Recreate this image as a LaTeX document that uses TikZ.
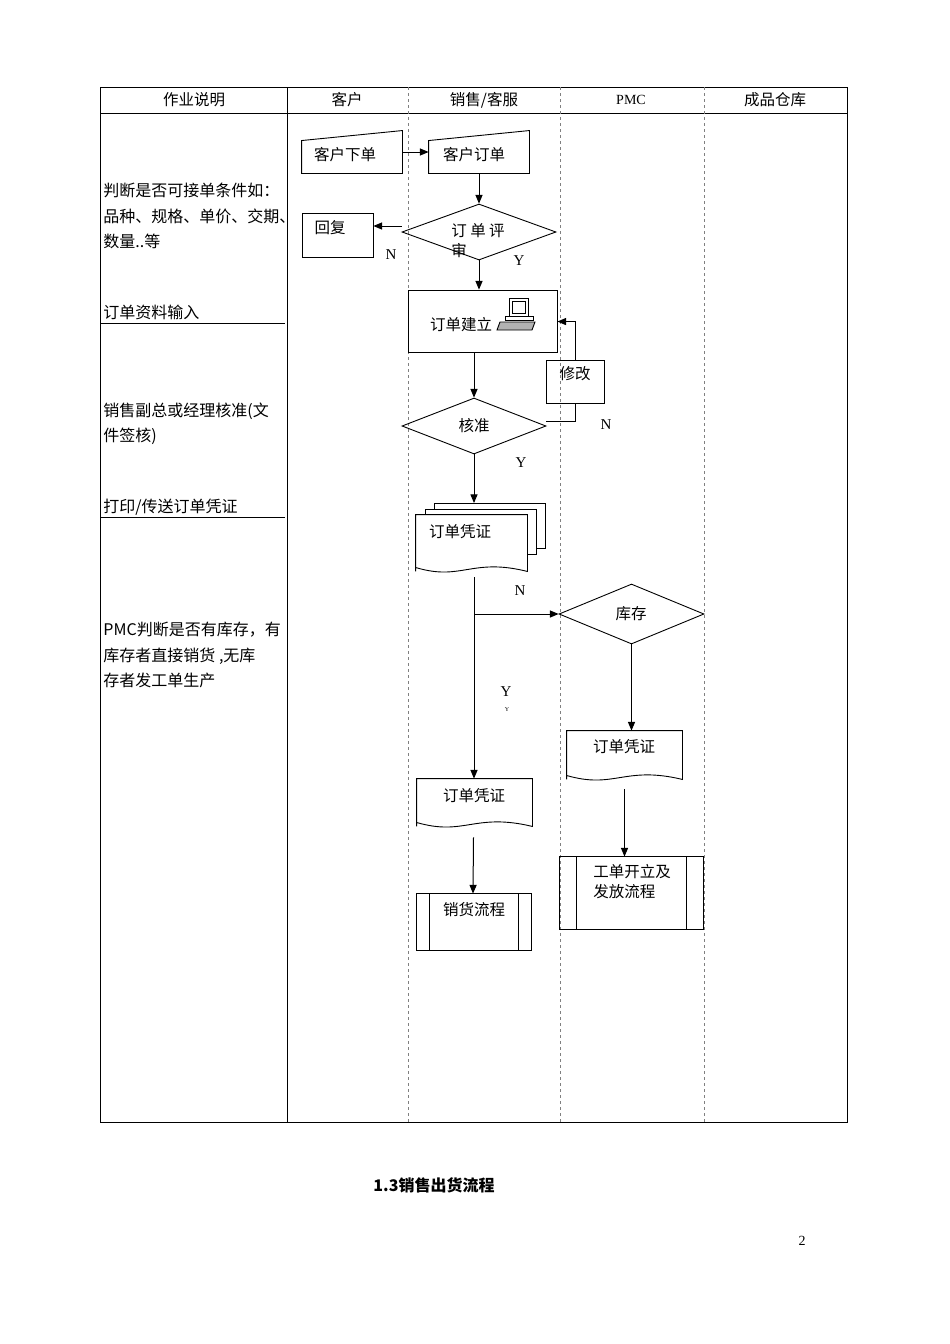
\documentclass[tikz,border=0pt]{standalone}
\usepackage{fontspec}
\setmainfont{Noto Sans CJK SC}
\newfontfamily\lat{Liberation Serif}
\usetikzlibrary{arrows,positioning,shapes.geometric,calc}
\newcommand{\docpath}[1]{%
  \draw (#1.south west) -- (#1.north west) -- (#1.north east) -- (#1.south east)
    .. controls ($(#1.south)+(0,-14)$) and ($(#1.south)+(-10,10)$) .. ($(#1.south west)+(0,-4)$) -- cycle;}
\newcommand{\manpath}[1]{%
  \draw (#1.south west) -- ($(#1.north west)+(0,10)$) -- (#1.north east) -- (#1.south east) -- cycle;}
\newcommand{\procpath}[2]{%
  \draw (#1.north west) rectangle (#1.south east);
  \draw ($(#1.north west)+(#2,0)$) -- ($(#1.south west)+(#2,0)$);
  \draw ($(#1.north east)+(-#2,0)$) -- ($(#1.south east)+(-#2,0)$);}
\begin{document}
\begin{tikzpicture}[x=1pt, y=-1pt, >=triangle 45, font=\fontsize{15.5}{20}\selectfont,
    every path/.style={line width=0.9pt},
    post/.style={->, line width=1pt},
    box/.style={minimum width=#1, inner sep=0pt},
    lane/.style={gray, dashed, line width=1pt},
    yn/.style={font=\lat\fontsize{15}{18}\selectfont}]
  \useasboundingbox (0,0) rectangle (950,1344);
  % table
  \draw (100,87) rectangle (847,1122);
  \draw (100,113) -- (847,113);
  \draw (287,87) -- (287,1122);
  \foreach \x in {408,560,704} \draw[lane] (\x,87) -- (\x,1122);
  \node at (194,100) {作业说明};
  \node at (347,100) {客户};
  \node at (484,100) {销售/客服};
  \node[font=\lat\fontsize{14}{16}\selectfont] at (631,100) {PMC};
  \node at (775,100) {成品仓库};
  % left notes
  \node[anchor=west, align=left, inner sep=0pt, font=\fontsize{16}{25.5}\selectfont] (n1) at (103,216) {判断是否可接单条件如：\\品种、规格、单价、交期、\\数量..等};
  \node[anchor=west, inner sep=0pt, font=\fontsize{16}{25.5}\selectfont] (n2) at (103,312) {订单资料输入};
  \draw (100,323) -- (285,323);
  \node[anchor=west, align=left, inner sep=0pt, font=\fontsize{16}{25.5}\selectfont] (n3) at (103,424) {销售副总或经理核准(文\\件签核)};
  \node[anchor=west, inner sep=0pt, font=\fontsize{16}{25.5}\selectfont] (n4) at (103,507) {打印/传送订单凭证};
  \draw (100,517) -- (285,517);
  \node[anchor=west, align=left, inner sep=0pt, font=\fontsize{16}{25.5}\selectfont] (n5) at (103,655) {PMC判断是否有库存，有\\库存者直接销货 ,无库\\存者发工单生产};
  % flow
  \node[box=100, minimum height=42] (KX) at (352,152) {};
  \manpath{KX}
  \node at (345,155) {客户下单};
  \node[box=100, minimum height=42] (KD) at (479,152) {};
  \manpath{KD}
  \node at (474,155) {客户订单};
  \node[draw, diamond, minimum width=154, minimum height=56, inner sep=0pt] (PS) at (479,232) {};
  \node[align=left, inner sep=0pt] at (478,241) {订 单 评\\审};
  \node[draw, minimum width=71, minimum height=44, inner sep=0pt] (HF) at (337.5,235) {};
  \node at (330,228) {回复};
  \node[draw, minimum width=149, minimum height=62, inner sep=0pt] (JL) at (482.5,321) {};
  \node at (461,325) {订单建立};
  % computer
  \draw[thick] (509,298) rectangle (528,316);
  \draw (512,301) rectangle (525,313);
  \draw[thick] (505,316) rectangle (533,320);
  \draw[fill=gray!60] (500,322) -- (535,322) -- (532,330) -- (497,330) -- cycle;
  \node[draw, diamond, minimum width=144, minimum height=56, inner sep=0pt] (HZ) at (474,426) {};
  \node at (474,426) {核准};
  \node[draw, minimum width=58, minimum height=43, inner sep=0pt] (XG) at (575,381.5) {};
  \node at (575,374) {修改};
  \draw[fill=white] (434,503) rectangle (545,548);
  \draw[fill=white] (425,509) rectangle (536,554);
  \node[box=111, minimum height=56, fill=white] (PZ1) at (471.5,543) {};
  \docpath{PZ1}
  \node at (460,532) {订单凭证};
  \node[draw, diamond, minimum width=145, minimum height=60, inner sep=0pt] (KC) at (631.5,614) {};
  \node at (631,614) {库存};
  \node[box=115, minimum height=48] (PZ3) at (624.5,755) {};
  \docpath{PZ3}
  \node at (624,747) {订单凭证};
  \node[minimum width=143, minimum height=72, inner sep=0pt] (GD) at (631.5,893) {};
  \procpath{GD}{17}
  \node[align=left, inner sep=0pt] at (632,882) {工单开立及\\发放流程};
  \node[box=115, minimum height=47] (PZ2) at (474.5,802.5) {};
  \docpath{PZ2}
  \node at (474,796) {订单凭证};
  \node[minimum width=114, minimum height=56, inner sep=0pt] (XH) at (474,922) {};
  \procpath{XH}{13}
  \node at (474,910) {销货流程};
  % connectors
  \draw[post] (KX.east) -- (KD.west);
  \draw[post] (KD.south) -- (PS.north);
  \draw[post] ($(PS.west)+(0,-6)$) -- ($(HF.east)+(0,-9)$);
  \draw[post] (PS.south) -- (PS.south |- JL.north);
  \draw[post] (JL.south -| HZ.north) -- (HZ.north);
  \draw (HZ.east) ++(0,-5) -| (XG.south);
  \coordinate (xgt) at ($(XG.north)+(0,-38)$);
  \draw[post] (XG.north) -- (xgt) -- (xgt -| JL.east);
  \draw[post] (HZ.south) -- (HZ.south |- 0,503);
  \coordinate (br) at (474,614);
  \draw (474,577) -- (br);
  \draw[post] (br) -- (PZ2.north -| br);
  \draw[post] (br) -- (KC.west);
  \draw[post] (KC.south) -- (KC.south |- PZ3.north);
  \draw[post] ($(PZ3.south)+(0,10)$) -- (GD.north -| PZ3.south);
  \draw[post] ($(PZ2.south)+(-1,11)$) -- ($(XH.north)+(-1,0)$);
  % labels
  \node[yn] at (391,255) {N};
  \node[yn] at (519,261) {Y};
  \node[yn] at (606,425) {N};
  \node[yn] at (521,463) {Y};
  \node[yn] at (520,591) {N};
  \node[yn] at (506,692) {Y};
  \node[font=\lat\fontsize{6}{7}\selectfont] at (507,710) {Y};
  \node[font=\bfseries\fontsize{16}{20}\selectfont] at (434,1185) {1.3销售出货流程};
  \node[font=\lat\fontsize{14}{16}\selectfont] at (802,1241) {2};
\end{tikzpicture}
\end{document}
